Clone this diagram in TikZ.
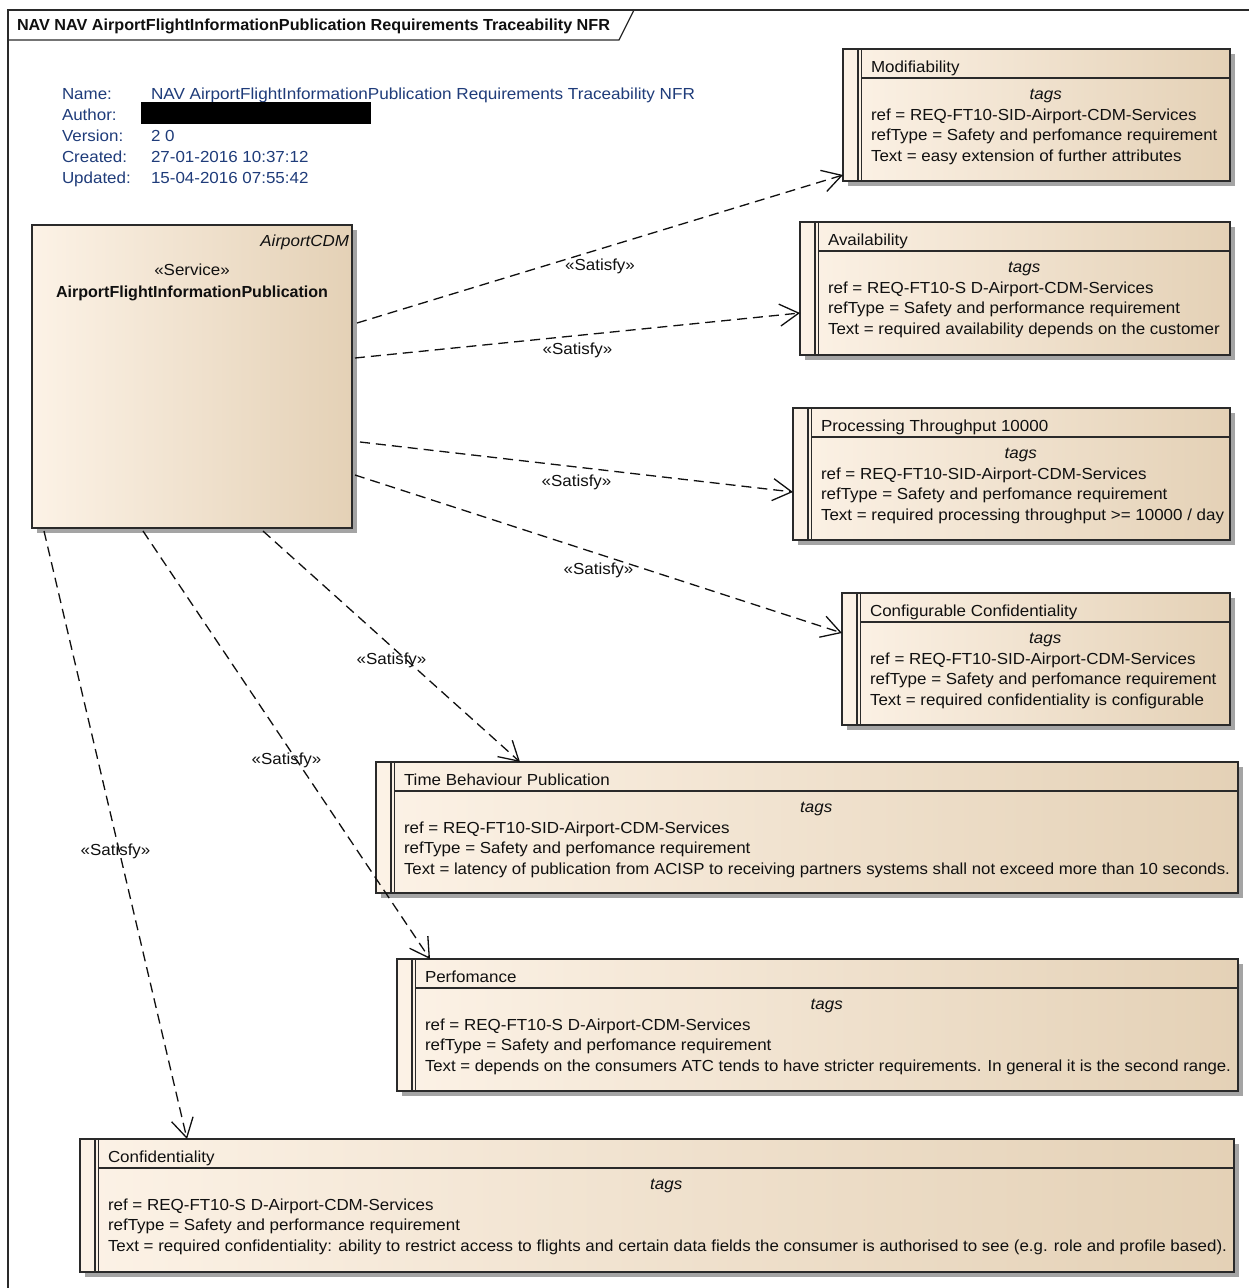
\documentclass[tikz,border=0pt]{standalone}
\usepackage{graphicx}
\usepackage{fontspec}
\setmainfont{Liberation Sans}[FakeStretch=1.06]
\usetikzlibrary{arrows.meta,calc}

\definecolor{boxL}{HTML}{FCF2E6}
\definecolor{boxR}{HTML}{E4D1B6}
\definecolor{edge}{HTML}{2A2A2A}
\definecolor{ink}{HTML}{101010}
\definecolor{infoblue}{HTML}{1F3C7A}
\definecolor{castgray}{HTML}{A4A4A4}

% squeeze a line of text horizontally to a given width (in pt)
\makeatletter
\newcommand\fitto[2]{\sbox0{#2}\dimen@=\wd0\relax\scalebox{\fpeval{#1/\strip@pt\dimen@}}[1]{\usebox0}}
\makeatother

% requirement element: name, left, top, right, bottom, heading, ref, refType, Text
\newcommand\reqbox[9]{%
  \fill[castgray] (#2+5,#3+5) rectangle (#4+5,#5+5);
  \node[reqbody, minimum width={(#4-#2)*1pt}, minimum height={(#5-#3)*1pt}] (#1) at (#2,#3) {};
  \draw[edge, line width=1.2pt]
    ($(#1.north west)+(15,0)$) -- ($(#1.south west)+(15,0)$)
    ($(#1.north west)+(18.5,0)$) -- ($(#1.south west)+(18.5,0)$)
    ($(#1.north west)+(18.5,29)$) -- ($(#1.north east)+(0,29)$);
  \node[txt, anchor=base west] (#1-head) at ($(#1.north west)+(28,23)$) {#6};
  \node[txtit, anchor=base] (#1-tags) at ($(#1.north west)!0.5!(#1.north east)+(9.25,50)$) {tags};
  \node[txt, anchor=base west] (#1-ref) at ($(#1.north west)+(28,71)$) {#7};
  \node[txt, anchor=base west] (#1-type) at ($(#1.north west)+(28,91.5)$) {#8};
  \node[txt, anchor=base west] (#1-text) at ($(#1.north west)+(28,112)$) {#9};
}

\begin{document}
\begin{tikzpicture}[x=1pt,y=-1pt,
  txt/.style={font=\fontsize{16}{18}\selectfont, text=ink, inner sep=0pt, outer sep=0pt},
  txtit/.style={txt, font=\fontsize{16}{18}\selectfont\itshape},
  txtbf/.style={txt, font=\fontsize{16}{18}\selectfont\bfseries},
  info/.style={txt, text=infoblue},
  reqbody/.style={draw=edge, line width=1.2pt, left color=boxL, right color=boxR,
    inner sep=0pt, outer sep=0pt, anchor=north west},
  frameline/.style={draw=edge, line width=1.2pt},
  satisfy/.style={draw=ink, line width=1.3pt, dash pattern=on 10pt off 6pt,
    -{Straight Barb[length=19pt,width=22pt]}},
  lbl/.style={txt}
]
\useasboundingbox (0,0) rectangle (1249,1288);
\fill[white] (0,0) rectangle (1249,1288);

% diagram frame with its name tab
\draw[frameline] (8,1288) -- (8,10) -- (1249,10);
\draw[frameline] (8,40) -- (619,40) -- (634,10);
\node[txtbf, anchor=base west] (frametitle) at (17,30)
  {\fitto{593}{NAV NAV AirportFlightInformationPublication Requirements Traceability NFR}};

% diagram properties
\node[info, anchor=base west] (k1) at (62,99) {Name:};
\node[info, anchor=base west] (k2) at (62,120) {Author:};
\node[info, anchor=base west] (k3) at (62,141) {Version:};
\node[info, anchor=base west] (k4) at (62,162) {Created:};
\node[info, anchor=base west] (k5) at (62,183) {Updated:};
\node[info, anchor=base west] (v1) at (151,99)
  {\fitto{544}{NAV AirportFlightInformationPublication Requirements Traceability NFR}};
\fill[black] (140.5,102) rectangle (370.5,124);
\node[info, anchor=base west] (v3) at (151,141) {2 0};
\node[info, anchor=base west] (v4) at (151,162) {27-01-2016 10:37:12};
\node[info, anchor=base west] (v5) at (151,183) {15-04-2016 07:55:42};

% the service
\fill[castgray] (37,230) rectangle (357,533);
\node[reqbody, minimum width=320pt, minimum height=303pt] (svc) at (32,225) {};
\node[txtit, anchor=base east] (svc-pkg) at ($(svc.north east)+(-3,21)$) {AirportCDM};
\node[txt, anchor=base] (svc-st) at ($(svc.north)+(0,50)$) {«Service»};
\node[txtbf, anchor=base] (svc-name) at ($(svc.north)+(0,72)$)
  {\fitto{272}{AirportFlightInformationPublication}};

% requirements
\reqbox{mod}{843}{49}{1230}{181}{Modifiability}
  {ref = REQ-FT10-SID-Airport-CDM-Services}
  {refType = Safety and perfomance requirement}
  {Text = easy extension of further attributes}
\reqbox{avail}{800}{222}{1230}{355}{Availability}
  {ref = REQ-FT10-S D-Airport-CDM-Services}
  {refType = Safety and performance requirement}
  {Text = required availability depends on the customer}
\reqbox{proc}{793}{408}{1230}{540}{Processing Throughput 10000}
  {ref = REQ-FT10-SID-Airport-CDM-Services}
  {refType = Safety and perfomance requirement}
  {Text = required processing throughput >= 10000 / day}
\reqbox{cconf}{842}{593}{1230}{725}{Configurable Confidentiality}
  {ref = REQ-FT10-SID-Airport-CDM-Services}
  {refType = Safety and perfomance requirement}
  {Text = required confidentiality is configurable}
\reqbox{time}{376}{762}{1238}{893}{Time Behaviour Publication}
  {ref = REQ-FT10-SID-Airport-CDM-Services}
  {refType = Safety and perfomance requirement}
  {\fitto{826}{Text = latency of publication from ACISP to receiving partners systems shall not exceed more than 10 seconds.}}
\reqbox{perf}{397}{959}{1238}{1091}{Perfomance}
  {ref = REQ-FT10-S D-Airport-CDM-Services}
  {refType = Safety and perfomance requirement}
  {\fitto{806}{Text = depends on the consumers ATC tends to have stricter requirements. In general it is the second range.}}
\reqbox{conf}{80}{1139}{1234}{1272}{Confidentiality}
  {ref = REQ-FT10-S D-Airport-CDM-Services}
  {refType = Safety and performance requirement}
  {\fitto{1119}{Text = required confidentiality: ability to restrict access to flights and certain data fields the consumer is authorised to see (e.g. role and profile based).}}

% satisfy relations
\draw[satisfy] ($(svc.north east)+(5,98)$) -- ($(mod.south west)+(0,-6)$)
  node[lbl, midway, yshift=-17pt] (s1) {«Satisfy»};
\draw[satisfy] ($(svc.north east)+(3,133)$) -- ($(avail.south west)+(0,-42)$)
  node[lbl, midway, yshift=-15pt] (s2) {«Satisfy»};
\draw[satisfy] ($(svc.north east)+(8,217)$) -- ($(proc.south west)+(0,-48)$)
  node[lbl, midway, yshift=-15pt] (s3) {«Satisfy»};
\draw[satisfy] ($(svc.north east)+(3,250)$) -- ($(cconf.north west)+(0,40)$)
  node[lbl, midway, yshift=-16pt] (s4) {«Satisfy»};
\draw[satisfy] ($(svc.south west)+(231,3)$) -- ($(time.north west)+(144,0)$)
  node[lbl, midway, yshift=-14pt] (s5) {«Satisfy»};
\draw[satisfy] ($(svc.south west)+(111,3)$) -- ($(perf.north west)+(33,0)$)
  node[lbl, midway, yshift=-15pt] (s6) {«Satisfy»};
\draw[satisfy] ($(svc.south west)+(12,3)$) -- ($(conf.north west)+(107,0)$)
  node[lbl, midway, yshift=-16pt] (s7) {«Satisfy»};
\end{tikzpicture}
\end{document}
